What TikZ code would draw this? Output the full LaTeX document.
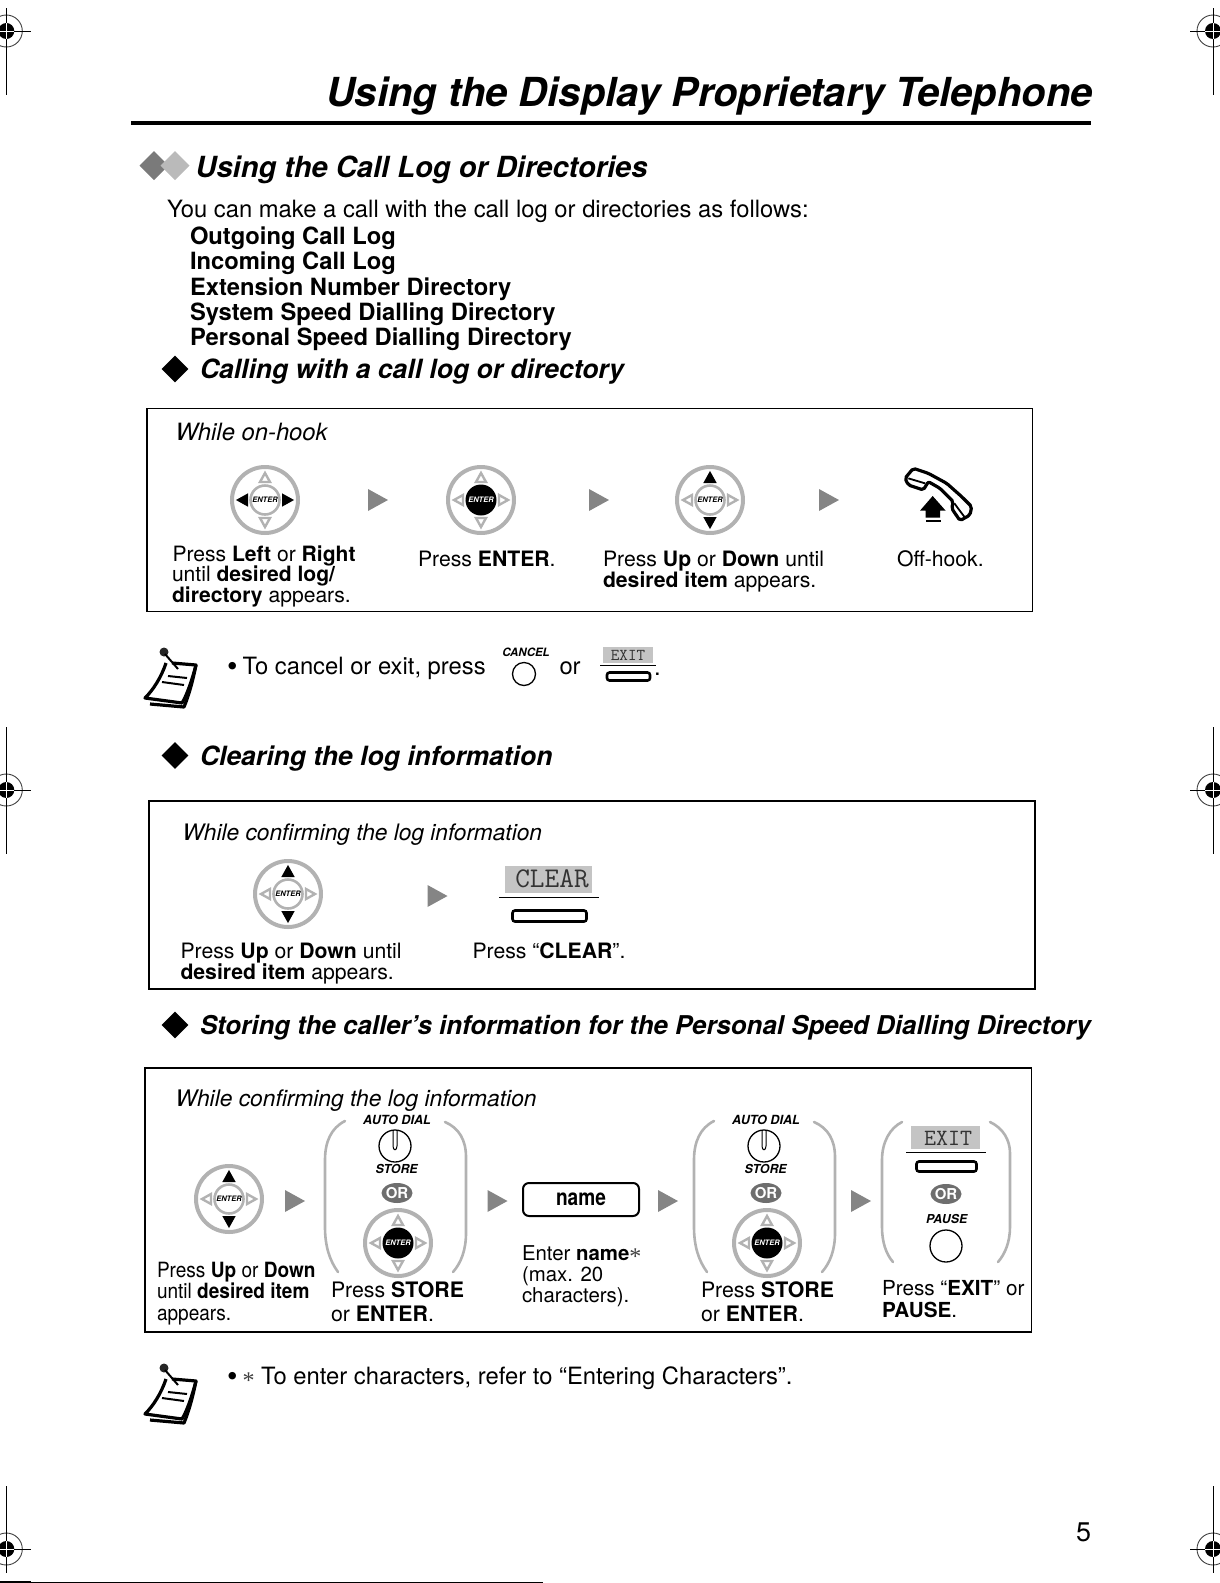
\documentclass[tikz,border=0pt]{standalone}
\usepackage{fontspec}
\setmainfont{TeX Gyre Heros}
\newfontfamily\starf{Liberation Serif}
\definecolor{ringgray}{HTML}{B2B2B2}
\definecolor{playgray}{HTML}{858585}
\definecolor{orgray}{HTML}{6E6E6E}
\definecolor{lcdgray}{HTML}{C4C4C4}
\newcommand\fs[1]{\fontsize{#1}{#1}\selectfont}
\newcounter{tn}
\newcommand\T[4]{\stepcounter{tn}\node[txt,font=\fs{#3}] (t\arabic{tn}) at (#1,#2) {#4};}
\newcommand\TC[4]{\stepcounter{tn}\node[ctxt,font=\fs{#3}] (t\arabic{tn}) at (#1,#2) {#4};}
\newcommand\bi[1]{\textbf{\textit{#1}}}
\newcommand\astk{\smash{\raisebox{-4pt}{\fs{24}\starf\textcolor{black!75}{*}}}}
\newcommand\bigbullet{\raisebox{-2pt}{\fs{30}•}\kern-1.5pt}
\newcommand\playtri[2]{\fill[playgray] (#1-10,#2-11) -- (#1+10,#2) -- (#1-10,#2+11) -- cycle;}
\newcommand\dia[3]{\fill[#3] (#1-14.5,#2) -- (#1,#2-14.5) -- (#1+14.5,#2) -- (#1,#2+14.5) -- cycle;}
\newcommand\diab[2]{\fill[black] (#1-13.3,#2) -- (#1,#2-13.3) -- (#1+13.3,#2) -- (#1,#2+13.3) -- cycle;}
% keypad: x y, style of up/down, style of left/right, centre style, text colour
\newcommand\keypad[6]{%
 \begin{scope}[shift={(#1,#2)}]
  \draw[ring] (0,0) circle[radius=33pt];
  \draw[#3] (0,-27) -- (5,-18) -- (-5,-18) -- cycle;
  \draw[#3] (0,27) -- (5,18) -- (-5,18) -- cycle;
  \draw[#4] (-27,0) -- (-18,5) -- (-18,-5) -- cycle;
  \draw[#4] (27,0) -- (18,5) -- (18,-5) -- cycle;
  \draw[#5] (0,0) circle[radius=14.5pt];
  \stepcounter{tn}\node[ctxt,font=\fs{7.5}\bfseries\itshape,text=#6] (t\arabic{tn}) at (0,0) {ENTER};
 \end{scope}}
\newcommand\regmark[6]{%
 \fill (#1,#2) circle[radius=8pt];
 \draw[line width=0.9pt,black!75] (#1,#2) circle[radius=16pt];
 \draw[white,line width=1pt] (#1-8,#2) -- (#1+8,#2) (#1,#2-8) -- (#1,#2+8);
 \draw[line width=1pt] (#1,#3) -- (#1,#2-8) (#1,#2+8) -- (#1,#4) (#5,#2) -- (#1-8,#2) (#1+8,#2) -- (#6,#2);}
\newcommand\noteicon[1]{%
 \begin{scope}[shift={(0,#1)}]
  \fill[black!85] (164,652) circle[radius=4.5pt];
  \draw[line width=2pt] (165,654) -- (178,669);
  \draw[line width=3.2pt,line join=round] (172,663) -- (196,665) .. controls (193,680) and (189,695) .. (184,707) -- (150,704);
  \draw[line width=3.2pt,line join=round] (166,663) .. controls (161,678) and (153,690) .. (145,698) -- (182,703) .. controls (187,695) and (192,680) .. (196,665);
  \draw[line width=2pt] (168,676) -- (187,678) (162,682) -- (184,685);
 \end{scope}}
\newcommand\storegroup[1]{%
 \begin{scope}[shift={(#1,0)}]
  \draw[paren] (345,1121) .. controls (331,1128) and (325,1142) .. (325,1160) -- (325,1227) .. controls (325,1247) and (330,1261) .. (338,1272);
  \draw[paren] (445,1122) .. controls (459,1128) and (466,1140) .. (466,1157) -- (466,1233) .. controls (466,1250) and (461,1263) .. (453,1272);
  \TC{397}{1120}{12.6}{\bi{AUTO DIAL}}
  \draw[line width=1.3pt] (395,1146) circle[radius=16pt];
  \draw[line width=1pt] (393,1131) -- (393,1146) .. controls (393,1151) and (397,1151) .. (397,1146) -- (397,1131);
  \TC{397}{1169}{12.4}{\bi{STORE}}
  \fill[orgray] (397,1193) ellipse[x radius=15.5pt,y radius=10pt];
  \TC{397}{1193}{15}{\textcolor{white}{\textbf{OR}}}
 \end{scope}}
\tikzset{
 x=1pt,y=-1pt,
 txt/.style={anchor=base west,inner sep=0pt,outer sep=0pt},
 ctxt/.style={anchor=center,inner sep=0pt,outer sep=0pt},
 framebox/.style={draw=black,line width=1.3pt},
 ring/.style={draw=ringgray,line width=4pt},
 centerwhite/.style={draw=ringgray,line width=2.6pt,fill=white},
 centerblack/.style={draw=black,line width=2pt,fill=black},
 hollowtri/.style={draw=ringgray,line width=2.4pt,fill=white,line join=miter},
 solidtri/.style={draw=black,line width=2pt,fill=black,line join=miter},
 paren/.style={draw=ringgray,line width=2.6pt,line cap=round},
 softkey/.style={draw=black,line width=2.6pt,rounded corners=2.5pt},
 lcdrule/.style={line width=1pt},
 plainkey/.style={draw=black,line width=1.3pt},
}
\begin{document}
\begin{tikzpicture}
\useasboundingbox (0,0) rectangle (1220,1583);
% registration marks
\begin{scope}
\clip (0,0) rectangle (1220,1583);
\regmark{6.3}{31}{8}{95}{-10}{31}
\regmark{6.3}{790}{727}{854}{-10}{31}
\regmark{6.3}{1549}{1486}{1573}{-10}{31}
\regmark{1213}{31}{8}{95}{1190}{1230}
\regmark{1213}{790}{727}{854}{1190}{1230}
\regmark{1213}{1549}{1486}{1573}{1190}{1230}
\end{scope}
\draw[line width=1pt] (0,1582) -- (543,1582);
\draw[line width=2pt] (0,1582) -- (31,1582);
% title
\T{326}{106}{40}{\bi{Using the Display Proprietary Telephone}}
\fill (131,120.8) rectangle (1091,124.8);
% section heading
\dia{154}{165.5}{black!52}
\dia{175}{165.5}{black!27}
\T{195.5}{177}{29.1}{\bi{Using the Call Log or Directories}}
\T{167}{217}{23.8}{You can make a call with the call log or directories as follows:}
\T{190}{244}{23.75}{\textbf{Outgoing Call Log}}
\T{190}{269}{23.75}{\textbf{Incoming Call Log}}
\T{190}{295}{23.75}{\textbf{Extension Number Directory}}
\T{190}{320}{23.75}{\textbf{System Speed Dialling Directory}}
\T{190}{345}{23.75}{\textbf{Personal Speed Dialling Directory}}
\diab{175}{369}
\T{200}{378}{26.5}{\bi{Calling with a call log or directory}}
% box 1
\draw[framebox] (147,408.5) rectangle (1032.5,611.5);
\T{175.5}{440}{23.8}{\textit{While on-hook}}
\keypad{265}{500}{hollowtri}{solidtri}{centerwhite}{black}
\playtri{378}{500}
\keypad{481}{500}{hollowtri}{hollowtri}{centerblack}{white}
\playtri{599}{500}
\keypad{710}{500}{solidtri}{hollowtri}{centerwhite}{black}
\playtri{829}{500}
% off-hook icon
\begin{scope}[shift={(860,450)},x=0.3333pt,y=-0.3333pt]
 \draw[line width=3.2pt,line join=round,rounded corners=2pt] (160,55) -- (205,70) -- (260,100) -- (305,140) -- (335,170) -- (330,195) -- (300,212) -- (275,175) -- (280,155) -- (240,115) -- (205,95) -- (190,120) -- (145,105) -- (135,85) -- cycle;
 \draw[line width=1.8pt] (145,85) -- (195,100) (283,160) -- (315,203);
 \fill (218,138) -- (257,182) -- (240,182) -- (240,203) -- (197,203) -- (197,182) -- (180,182) -- cycle;
 \fill (197,209) rectangle (243,215);
\end{scope}
\T{172.5}{561.5}{21.1}{Press \textbf{Left} or \textbf{Right}}
\T{172}{581.5}{21.1}{until \textbf{desired log/}}
\T{172}{602}{21.1}{\textbf{directory} appears.}
\T{418}{566}{21.2}{Press \textbf{ENTER}.}
\T{603}{566}{21.2}{Press \textbf{Up} or \textbf{Down} until}
\T{603}{587}{21.2}{\textbf{desired item} appears.}
\T{897}{566}{21.2}{Off-hook.}
% note 1
\noteicon{0}
\T{227}{674}{23.8}{\bigbullet{} To cancel or exit, press}
\TC{526}{652}{11.5}{\bi{CANCEL}}
\draw[plainkey] (524,674) circle[radius=11.5pt];
\T{559.5}{674}{23.8}{or}
\fill[lcdgray] (603,647) rectangle (652.5,663);
\TC{628}{655.5}{16.6}{\ttfamily\textcolor{black!80}{EXIT}}
\draw[lcdrule] (600,665.5) -- (656,665.5);
\draw[softkey] (607,672.5) rectangle (650,680.5);
\T{654}{675}{23.8}{.}
% clearing
\diab{175}{755.5}
\T{200}{765}{26.5}{\bi{Clearing the log information}}
\draw[framebox] (149,801) rectangle (1035,989);
\T{182.5}{840}{22.7}{\textit{While confirming the log information}}
\keypad{288}{894}{solidtri}{hollowtri}{centerwhite}{black}
\playtri{437.5}{896}
\fill[lcdgray] (505,866) rectangle (592,893);
\TC{552}{879}{28.5}{\ttfamily\textcolor{black!80}{CLEAR}}
\draw[lcdrule] (499,897) -- (599,897);
\draw[softkey] (512.5,910.5) rectangle (586.5,921.5);
\T{180.5}{958.5}{21.2}{Press \textbf{Up} or \textbf{Down} until}
\T{180.5}{979}{21.2}{\textbf{desired item} appears.}
\T{472.5}{958.5}{21.2}{Press “\textbf{CLEAR}”.}
% storing
\diab{175}{1025}
\T{200}{1034}{25.9}{\bi{Storing the caller’s information for the Personal Speed Dialling Directory}}
\draw[framebox] (145,1068) rectangle (1031.5,1332);
\T{175.5}{1106}{22.8}{\textit{While confirming the log information}}
\keypad{229}{1199}{solidtri}{hollowtri}{centerwhite}{black}
\playtri{295}{1201}
\storegroup{0}
\keypad{398}{1243}{hollowtri}{hollowtri}{centerblack}{white}
\playtri{497.5}{1201}
\draw[line width=2pt,rounded corners=6pt] (523,1183) rectangle (639,1216);
\TC{581}{1199}{23}{\scalebox{.83}[1]{\textbf{name}}}
\playtri{668}{1201}
\storegroup{369}
\keypad{767}{1243}{hollowtri}{hollowtri}{centerblack}{white}
\playtri{861}{1201}
\draw[paren] (902,1122) .. controls (890,1128) and (882,1142) .. (882,1160) -- (882,1227) .. controls (882,1242) and (886,1254) .. (893,1262);
\draw[paren] (990,1122) .. controls (1003,1128) and (1010,1140) .. (1010,1153) -- (1010,1227) .. controls (1010,1242) and (1005,1254) .. (998,1262);
\fill[lcdgray] (911,1126) rectangle (980,1149);
\TC{948}{1138}{23.3}{\ttfamily\textcolor{black!80}{EXIT}}
\draw[lcdrule] (906,1152) -- (986,1152);
\draw[softkey] (916.5,1161.5) rectangle (976.5,1171.5);
\fill[orgray] (946,1194) ellipse[x radius=15.5pt,y radius=10pt];
\TC{946}{1194}{15}{\textcolor{white}{\textbf{OR}}}
\TC{947}{1219}{12.3}{\bi{PAUSE}}
\draw[plainkey] (946,1246) circle[radius=16pt];
\T{157}{1277}{21}{\scalebox{.907}[1]{Press \textbf{Up} or \textbf{Down}}}
\T{157}{1298}{21}{\scalebox{.907}[1]{until \textbf{desired item}}}
\T{157}{1320}{21}{\scalebox{.907}[1]{appears.}}
\T{331}{1297}{21.3}{Press \textbf{STORE}}
\T{331}{1321}{21.3}{or \textbf{ENTER}.}
\T{522}{1260}{20.4}{Enter \textbf{name}\astk}
\T{522}{1281}{20.4}{(max. 20}
\T{522}{1302}{20.4}{characters).}
\T{701}{1297}{21.3}{Press \textbf{STORE}}
\T{701}{1321}{21.3}{or \textbf{ENTER}.}
\T{882}{1295}{20.7}{Press “\textbf{EXIT}” or}
\T{882}{1317}{20.7}{\textbf{PAUSE}.}
% note 2
\noteicon{716}
\T{227}{1384}{23.8}{\bigbullet{} \astk{} To enter characters, refer to “Entering Characters”.}
% page number
\T{1076}{1541}{27}{5}
\end{tikzpicture}
\end{document}
